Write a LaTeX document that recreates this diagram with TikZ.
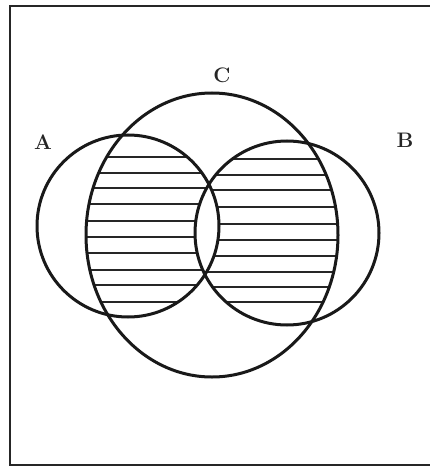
\documentclass[tikz,border=0pt]{standalone}
\begin{document}
\begin{tikzpicture}[x=1pt,y=-1pt,
  outline/.style={line width=3pt, draw=black!90},
  hatch/.style={line width=2.8pt, draw=black!85},
  lbl/.style={font=\bfseries\fontsize{21}{21}\selectfont, text=black!85, inner sep=0pt}]
\useasboundingbox (0,0) rectangle (429,468);
\def\Apath{(128,226) circle [radius=91]}
\def\Bpath{(287,233) circle [radius=92]}
\def\Cpath{(212,235) ellipse [x radius=126, y radius=142]}
% left hatched region: A and C, not B
\begin{scope}[even odd rule]
  \clip \Apath;
  \clip \Cpath;
  \clip (0,0) rectangle (429,468) \Bpath;
  \foreach \yy in {157,173,188,204,221,237,253,270,285,302}
    \draw[hatch] (30,\yy) -- (240,\yy);
\end{scope}
% right hatched region: B and C, not A
\begin{scope}[even odd rule]
  \clip \Bpath;
  \clip \Cpath;
  \clip (0,0) rectangle (429,468) \Apath;
  \foreach \yy in {159,175,190,207,224,240,256,272,287,302}
    \draw[hatch] (180,\yy) -- (390,\yy);
\end{scope}
\draw[outline] \Apath;
\draw[outline] \Bpath;
\draw[outline] \Cpath;
% frame (open on the right)
\draw[line width=2.2pt, draw=black!85] (440,6) -- (10,6) -- (10,465) -- (440,465);
\node[lbl] (la) at (43,142) {A};
\node[lbl] (lb) at (405,140) {B};
\node[lbl] (lc) at (222,75) {C};
\end{tikzpicture}
\end{document}
